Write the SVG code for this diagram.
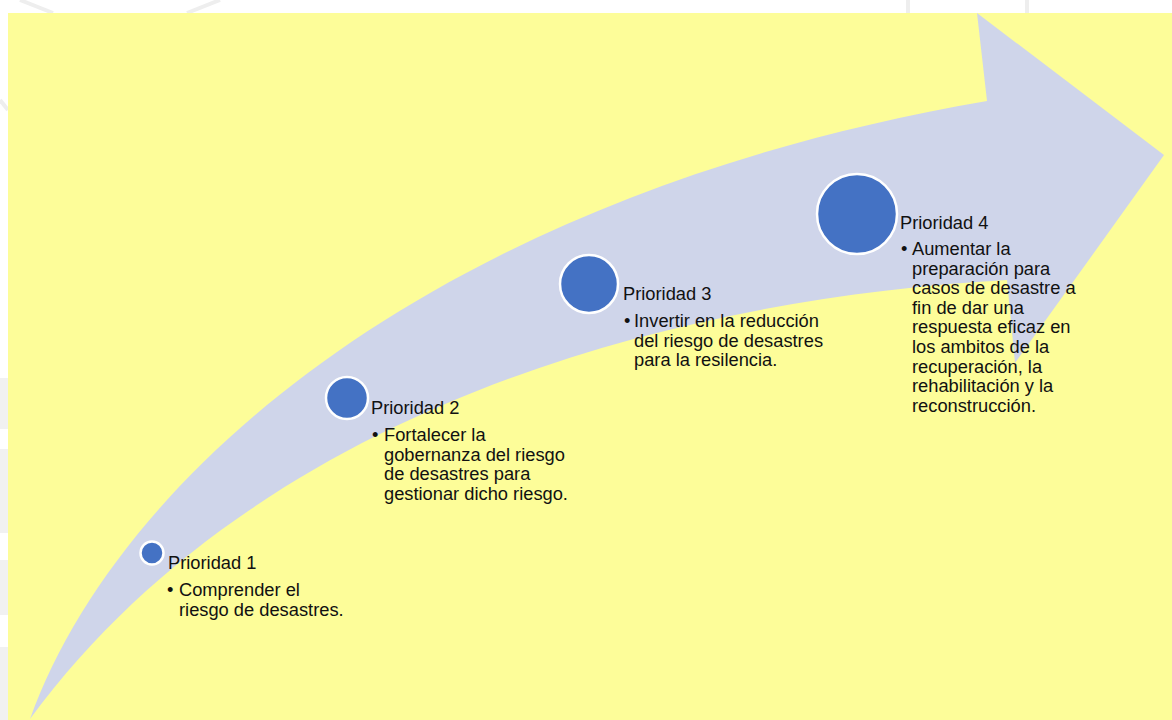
<svg xmlns="http://www.w3.org/2000/svg" width="1172" height="720" viewBox="0 0 1172 720">
<style>
.bg-line{stroke:#eeeeee;stroke-width:4;fill:none}
.dot{fill:#4472C4;stroke:#ffffff;stroke-width:2.5}
.t{font-family:"Liberation Sans",Arial,sans-serif;font-size:18.3px;fill:#111111}
</style>
<rect x="0" y="0" width="1172" height="720" fill="#ffffff"/>
<g id="background-pattern">
<line class="bg-line" x1="20" y1="0" x2="53" y2="13"/>
<line class="bg-line" x1="187" y1="13" x2="220" y2="0"/>
<line class="bg-line" x1="0" y1="100" x2="8" y2="110"/>
<rect x="906" y="0" width="4" height="13" fill="#eeeeee"/>
<rect x="1025" y="0" width="4" height="13" fill="#eeeeee"/>
<rect x="0" y="378" width="8" height="51" fill="#f1f1f1"/>
<rect x="0" y="449" width="8" height="84" fill="#f1f1f1"/>
<rect x="0" y="560" width="8" height="55" fill="#f1f1f1"/>
<rect x="0" y="647" width="8" height="73" fill="#f1f1f1"/>
</g>
<rect id="panel" x="8" y="13" width="1164" height="707" fill="#FDFD99"/>
<g id="arrow">
<path d="M30,719 C120,470 440,195 987,101 L977,13 L1164,155 L1015,363 L1007,280 C650,300 250,420 30,719 Z" fill="#CFD5EA"/>
</g>
<g id="prioridad-1">
<circle class="dot" cx="152" cy="553" r="11.5"/>
<text class="t" x="168" y="569">Prioridad 1</text>
<text class="t" x="167" y="596">•</text>
<text class="t" x="179" y="596">Comprender el</text>
<text class="t" x="179" y="615.6">riesgo de desastres.</text>
</g>
<g id="prioridad-2">
<circle class="dot" cx="347" cy="398" r="21"/>
<text class="t" x="371" y="414">Prioridad 2</text>
<text class="t" x="372" y="441">•</text>
<text class="t" x="384" y="441">Fortalecer la</text>
<text class="t" x="384" y="460.6">gobernanza del riesgo</text>
<text class="t" x="384" y="480.2">de desastres para</text>
<text class="t" x="384" y="499.8">gestionar dicho riesgo.</text>
</g>
<g id="prioridad-3">
<circle class="dot" cx="589" cy="284" r="29"/>
<text class="t" x="623" y="300">Prioridad 3</text>
<text class="t" x="624" y="327">•</text>
<text class="t" x="634" y="327">Invertir en la reducción</text>
<text class="t" x="634" y="346.6">del riesgo de desastres</text>
<text class="t" x="634" y="366.2">para la resilencia.</text>
</g>
<g id="prioridad-4">
<circle class="dot" cx="857" cy="214" r="40"/>
<text class="t" x="900" y="229">Prioridad 4</text>
<text class="t" x="901" y="255">•</text>
<text class="t" x="912" y="255">Aumentar la</text>
<text class="t" x="912" y="274.6">preparación para</text>
<text class="t" x="912" y="294.2">casos de desastre a</text>
<text class="t" x="912" y="313.8">fin de dar una</text>
<text class="t" x="912" y="333.4">respuesta eficaz en</text>
<text class="t" x="912" y="353">los ambitos de la</text>
<text class="t" x="912" y="372.6">recuperación, la</text>
<text class="t" x="912" y="392.2">rehabilitación y la</text>
<text class="t" x="912" y="411.8">reconstrucción.</text>
</g>
</svg>
